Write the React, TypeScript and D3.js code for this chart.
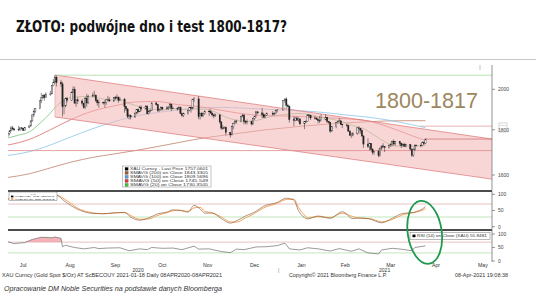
import React from "react";
import * as d3 from "d3";

// ---------- DATA ----------
const title = "ZŁOTO: podwójne dno i test 1800-1817?";
const note = "1800-1817";

// date, open, high, low, close
const ohlc: [string, number, number, number, number][] = [
["2020-07-06",1775,1786,1767,1783],["2020-07-07",1783,1797,1774,1795],["2020-07-08",1795,1818,1792,1809],["2020-07-09",1809,1818,1797,1804],["2020-07-10",1804,1808,1795,1799],
["2020-07-13",1799,1818,1794,1802],["2020-07-14",1802,1812,1794,1809],["2020-07-15",1809,1813,1800,1807],["2020-07-16",1807,1809,1795,1796],["2020-07-17",1796,1812,1795,1810],
["2020-07-20",1810,1820,1807,1818],["2020-07-21",1818,1843,1814,1842],["2020-07-22",1842,1872,1839,1871],["2020-07-23",1871,1898,1860,1888],["2020-07-24",1888,1904,1881,1902],
["2020-07-27",1902,1944,1899,1941],["2020-07-28",1941,1981,1929,1956],["2020-07-29",1956,1971,1950,1970],["2020-07-30",1970,1975,1941,1958],["2020-07-31",1958,1984,1955,1975],
["2020-08-03",1975,1992,1966,1976],["2020-08-04",1976,2022,1975,2019],["2020-08-05",2019,2055,2016,2038],["2020-08-06",2038,2075,2030,2063],["2020-08-07",2063,2072,2015,2035],
["2020-08-10",2035,2050,2012,2028],["2020-08-11",2028,2040,1863,1911],["2020-08-12",1911,1950,1874,1915],["2020-08-13",1915,1958,1908,1954],["2020-08-14",1954,1961,1932,1944],
["2020-08-17",1944,1990,1940,1985],["2020-08-18",1985,2015,1980,2000],["2020-08-19",2000,2014,1929,1929],["2020-08-20",1929,1950,1911,1946],["2020-08-21",1946,1959,1925,1940],
["2020-08-24",1940,1949,1917,1929],["2020-08-25",1929,1932,1902,1906],["2020-08-26",1906,1961,1900,1954],["2020-08-27",1954,1975,1911,1930],["2020-08-28",1930,1972,1927,1964],
["2020-08-31",1964,1982,1960,1968],["2020-09-01",1968,1992,1960,1970],["2020-09-02",1970,1973,1935,1943],["2020-09-03",1943,1950,1917,1931],["2020-09-04",1931,1946,1906,1933],
["2020-09-07",1933,1937,1922,1931],["2020-09-08",1931,1944,1907,1931],["2020-09-09",1931,1950,1921,1946],["2020-09-10",1946,1966,1940,1946],["2020-09-11",1946,1959,1936,1940],
["2020-09-14",1940,1959,1934,1957],["2020-09-15",1957,1966,1946,1955],["2020-09-16",1955,1973,1951,1960],["2020-09-17",1960,1962,1931,1944],["2020-09-18",1944,1959,1940,1950],
["2020-09-21",1950,1954,1882,1912],["2020-09-22",1912,1913,1890,1900],["2020-09-23",1900,1905,1855,1863],["2020-09-24",1863,1876,1849,1868],["2020-09-25",1868,1872,1849,1861],
["2020-09-28",1861,1883,1856,1880],["2020-09-29",1880,1900,1873,1898],["2020-09-30",1898,1900,1878,1886],["2020-10-01",1886,1916,1885,1906],["2020-10-02",1906,1918,1889,1900],
["2020-10-05",1900,1920,1898,1913],["2020-10-06",1913,1920,1873,1877],["2020-10-07",1877,1896,1873,1887],["2020-10-08",1887,1899,1883,1894],["2020-10-09",1894,1933,1890,1930],
["2020-10-12",1930,1935,1916,1922],["2020-10-13",1922,1924,1885,1892],["2020-10-14",1892,1903,1886,1898],["2020-10-15",1898,1913,1892,1908],["2020-10-16",1908,1912,1894,1900],
["2020-10-19",1900,1914,1897,1905],["2020-10-20",1905,1916,1896,1907],["2020-10-21",1907,1931,1903,1924],["2020-10-22",1924,1926,1889,1904],["2020-10-23",1904,1912,1899,1902],
["2020-10-26",1902,1910,1892,1902],["2020-10-27",1902,1913,1895,1908],["2020-10-28",1908,1912,1874,1878],["2020-10-29",1878,1881,1861,1868],["2020-10-30",1868,1882,1860,1878],
["2020-11-02",1878,1897,1872,1894],["2020-11-03",1894,1911,1889,1909],["2020-11-04",1909,1911,1882,1904],["2020-11-05",1904,1950,1898,1949],["2020-11-06",1949,1960,1935,1951],
["2020-11-09",1951,1965,1850,1862],["2020-11-10",1862,1881,1849,1877],["2020-11-11",1877,1886,1860,1866],["2020-11-12",1866,1882,1862,1877],["2020-11-13",1877,1893,1871,1889],
["2020-11-16",1889,1898,1866,1887],["2020-11-17",1887,1898,1876,1880],["2020-11-18",1880,1883,1862,1871],["2020-11-19",1871,1877,1855,1866],["2020-11-20",1866,1878,1862,1871],
["2020-11-23",1871,1876,1829,1837],["2020-11-24",1837,1840,1800,1808],["2020-11-25",1808,1821,1800,1806],["2020-11-26",1806,1815,1805,1811],["2020-11-27",1811,1816,1774,1788],
["2020-11-30",1788,1790,1764,1776],["2020-12-01",1776,1819,1775,1815],["2020-12-02",1815,1834,1803,1830],["2020-12-03",1830,1845,1826,1841],["2020-12-04",1841,1848,1829,1839],
["2020-12-07",1839,1866,1835,1863],["2020-12-08",1863,1875,1859,1870],["2020-12-09",1870,1875,1825,1839],["2020-12-10",1839,1845,1826,1837],["2020-12-11",1837,1849,1825,1839],
["2020-12-14",1839,1843,1820,1827],["2020-12-15",1827,1858,1825,1855],["2020-12-16",1855,1868,1846,1863],["2020-12-17",1863,1891,1858,1886],["2020-12-18",1886,1889,1874,1881],
["2020-12-21",1881,1906,1856,1872],["2020-12-22",1872,1882,1859,1860],["2020-12-23",1860,1874,1855,1869],["2020-12-24",1869,1883,1866,1877],["2020-12-28",1877,1889,1869,1876],
["2020-12-29",1876,1885,1869,1878],["2020-12-30",1878,1896,1874,1893],["2020-12-31",1893,1900,1883,1895],["2021-01-04",1895,1944,1895,1943],["2021-01-05",1943,1952,1930,1950],
["2021-01-06",1950,1959,1902,1918],["2021-01-07",1918,1926,1907,1913],["2021-01-08",1913,1917,1834,1849],["2021-01-11",1849,1864,1817,1844],["2021-01-12",1844,1860,1840,1856],
["2021-01-13",1856,1863,1842,1846],["2021-01-14",1846,1859,1836,1851],["2021-01-15",1851,1856,1822,1828],["2021-01-18",1828,1840,1803,1840],["2021-01-19",1840,1845,1832,1840],
["2021-01-20",1840,1874,1838,1871],["2021-01-21",1871,1875,1858,1870],["2021-01-22",1870,1871,1846,1856],["2021-01-25",1856,1867,1848,1855],["2021-01-26",1855,1860,1847,1850],
["2021-01-27",1850,1852,1830,1843],["2021-01-28",1843,1866,1832,1843],["2021-01-29",1843,1874,1841,1847],["2021-02-01",1847,1875,1845,1860],["2021-02-02",1860,1862,1832,1839],
["2021-02-03",1839,1842,1829,1835],["2021-02-04",1835,1837,1785,1794],["2021-02-05",1794,1815,1791,1814],["2021-02-08",1814,1836,1807,1833],["2021-02-09",1833,1842,1830,1838],
["2021-02-10",1838,1855,1833,1842],["2021-02-11",1842,1848,1822,1826],["2021-02-12",1826,1828,1808,1823],["2021-02-15",1823,1827,1812,1820],["2021-02-16",1820,1823,1790,1794],
["2021-02-17",1794,1796,1770,1775],["2021-02-18",1775,1786,1762,1775],["2021-02-19",1775,1789,1770,1784],["2021-02-22",1784,1812,1777,1809],["2021-02-23",1809,1816,1782,1806],
["2021-02-24",1806,1808,1782,1797],["2021-02-25",1797,1801,1767,1771],["2021-02-26",1771,1775,1717,1734],["2021-03-01",1734,1760,1717,1723],["2021-03-02",1723,1740,1706,1737],
["2021-03-03",1737,1739,1705,1711],["2021-03-04",1711,1716,1687,1697],["2021-03-05",1697,1702,1687,1700],["2021-03-08",1700,1710,1676,1683],["2021-03-09",1683,1718,1678,1716],
["2021-03-10",1716,1723,1707,1726],["2021-03-11",1726,1738,1716,1722],["2021-03-12",1722,1725,1699,1719],["2021-03-15",1719,1733,1714,1729],["2021-03-16",1729,1740,1721,1731],
["2021-03-17",1731,1750,1725,1745],["2021-03-18",1745,1755,1728,1735],["2021-03-19",1735,1747,1727,1745],["2021-03-22",1745,1747,1727,1738],["2021-03-23",1738,1741,1716,1727],
["2021-03-24",1727,1738,1723,1733],["2021-03-25",1733,1740,1720,1725],["2021-03-26",1725,1736,1720,1732],["2021-03-29",1732,1733,1705,1712],["2021-03-30",1712,1713,1677,1685],
["2021-03-31",1685,1718,1678,1708],["2021-04-01",1708,1734,1704,1728],["2021-04-02",1728,1732,1725,1729],["2021-04-05",1729,1737,1720,1728],["2021-04-06",1728,1745,1725,1743],
["2021-04-07",1743,1746,1730,1737],["2021-04-08",1737,1759,1734,1757]
];

const sma20: [string, number][] = [
["2020-07-06",1762],["2020-07-13",1775],["2020-07-20",1790],["2020-07-27",1830],["2020-08-03",1880],["2020-08-07",1915],["2020-08-14",1950],["2020-08-21",1962],["2020-08-28",1962],
["2020-09-04",1955],["2020-09-11",1945],["2020-09-18",1945],["2020-09-25",1925],["2020-10-02",1910],["2020-10-09",1900],["2020-10-16",1895],["2020-10-23",1902],["2020-10-30",1898],
["2020-11-06",1900],["2020-11-13",1898],["2020-11-20",1885],["2020-11-27",1860],["2020-12-04",1845],["2020-12-11",1840],["2020-12-18",1845],["2020-12-24",1858],["2020-12-31",1868],
["2021-01-08",1875],["2021-01-15",1878],["2021-01-22",1870],["2021-01-29",1858],["2021-02-05",1850],["2021-02-12",1838],["2021-02-19",1820],["2021-02-26",1805],["2021-03-05",1775],
["2021-03-12",1745],["2021-03-19",1725],["2021-03-26",1725],["2021-04-01",1724],["2021-04-08",1728]
];
const sma50: [string, number][] = [
["2020-07-06",1730],["2020-07-20",1755],["2020-08-03",1800],["2020-08-17",1850],["2020-08-31",1890],["2020-09-14",1915],["2020-09-28",1935],["2020-10-12",1938],["2020-10-26",1922],
["2020-11-09",1912],["2020-11-23",1895],["2020-12-07",1878],["2020-12-21",1868],["2021-01-04",1866],["2021-01-18",1862],["2021-02-01",1858],["2021-02-15",1852],["2021-03-01",1842],
["2021-03-15",1812],["2021-03-29",1775],["2021-04-08",1750]
];
const sma100: [string, number][] = [
["2020-07-06",1684],["2020-07-20",1700],["2020-08-03",1730],["2020-08-17",1768],["2020-08-31",1805],["2020-09-14",1838],["2020-09-28",1865],["2020-10-12",1882],["2020-10-26",1895],
["2020-11-09",1905],["2020-11-23",1908],["2020-12-07",1905],["2020-12-21",1900],["2021-01-04",1895],["2021-01-18",1890],["2021-02-01",1882],["2021-02-15",1870],["2021-03-01",1860],
["2021-03-15",1845],["2021-03-29",1825],["2021-04-08",1810]
];
const sma200: [string, number][] = [
["2020-07-06",1590],["2020-07-20",1605],["2020-08-03",1630],["2020-08-17",1655],["2020-08-31",1675],["2020-09-14",1690],["2020-09-28",1705],["2020-10-12",1722],["2020-10-26",1740],
["2020-11-09",1758],["2020-11-23",1772],["2020-12-07",1785],["2020-12-21",1798],["2021-01-04",1808],["2021-01-18",1818],["2021-02-01",1826],["2021-02-15",1833],["2021-03-01",1838],
["2021-03-15",1842],["2021-03-29",1843],["2021-04-08",1843]
];

// channel: [date, price] end points
const channelUpper: [string, number][] = [["2020-08-06",2076],["2021-05-22",1757]];
const channelLower: [string, number][] = [["2020-08-06",1861],["2021-05-22",1583]];
const levelHigh = 2075;
const levelSupport = 1705;
const levelResist = 1817;
const levelLast = 1757;
const priceTicks = [2000, 1800, 1600];

const stochD: [string, number][] = [
["2020-07-06",86],["2020-07-13",84],["2020-07-20",90],["2020-07-27",95],["2020-08-03",97],["2020-08-07",97],["2020-08-12",80],["2020-08-17",64],["2020-08-20",56],["2020-08-26",45],
["2020-08-31",41],["2020-09-07",40],["2020-09-14",43],["2020-09-21",44],["2020-09-25",30],["2020-10-01",20],["2020-10-07",27],["2020-10-13",40],["2020-10-19",45],["2020-10-23",52],
["2020-10-28",50],["2020-11-02",45],["2020-11-06",66],["2020-11-10",55],["2020-11-13",42],["2020-11-18",42],["2020-11-24",25],["2020-11-30",11],["2020-12-04",18],["2020-12-10",33],
["2020-12-16",45],["2020-12-22",63],["2020-12-31",75],["2021-01-06",88],["2021-01-11",82],["2021-01-14",50],["2021-01-18",28],["2021-01-20",24],["2021-01-27",33],["2021-02-04",26],
["2021-02-12",46],["2021-02-19",25],["2021-02-24",27],["2021-03-02",24],["2021-03-10",12],["2021-03-17",26],["2021-03-24",41],["2021-03-31",44],["2021-04-02",47],["2021-04-05",52],
["2021-04-08",62]
];
const stochDS: [string, number][] = [
["2020-07-06",85],["2020-07-13",85],["2020-07-20",88],["2020-07-27",93],["2020-08-03",96],["2020-08-07",97],["2020-08-12",86],["2020-08-17",70],["2020-08-20",60],["2020-08-26",48],
["2020-08-31",43],["2020-09-07",40],["2020-09-14",42],["2020-09-21",44],["2020-09-25",35],["2020-10-01",23],["2020-10-07",24],["2020-10-13",35],["2020-10-19",43],["2020-10-23",49],
["2020-10-28",51],["2020-11-02",47],["2020-11-06",58],["2020-11-10",60],["2020-11-13",48],["2020-11-18",43],["2020-11-24",30],["2020-11-30",15],["2020-12-04",14],["2020-12-10",27],
["2020-12-16",41],["2020-12-22",58],["2020-12-31",72],["2021-01-06",84],["2021-01-11",85],["2021-01-14",60],["2021-01-18",36],["2021-01-20",27],["2021-01-27",31],["2021-02-04",28],
["2021-02-12",42],["2021-02-19",31],["2021-02-24",26],["2021-03-02",25],["2021-03-10",15],["2021-03-17",22],["2021-03-24",37],["2021-03-31",43],["2021-04-02",45],["2021-04-05",49],
["2021-04-08",56]
];
const rsi: [string, number][] = [
["2020-07-06",71],["2020-07-10",64],["2020-07-13",66],["2020-07-17",68],["2020-07-22",80],["2020-07-28",88],["2020-08-04",86],["2020-08-06",89],["2020-08-10",84],["2020-08-11",53],
["2020-08-13",58],["2020-08-19",50],["2020-08-25",45],["2020-09-01",50],["2020-09-04",46],["2020-09-10",48],["2020-09-18",49],["2020-09-24",38],["2020-10-01",45],["2020-10-06",42],
["2020-10-09",50],["2020-10-16",47],["2020-10-23",48],["2020-10-29",42],["2020-11-06",55],["2020-11-09",44],["2020-11-16",45],["2020-11-24",35],["2020-11-30",31],["2020-12-04",44],
["2020-12-09",42],["2020-12-17",52],["2020-12-24",53],["2020-12-31",57],["2021-01-05",66],["2021-01-06",60],["2021-01-08",45],["2021-01-15",41],["2021-01-20",49],["2021-01-27",45],
["2021-02-04",37],["2021-02-10",46],["2021-02-18",36],["2021-02-23",45],["2021-03-01",30],["2021-03-08",26],["2021-03-10",41],["2021-03-17",47],["2021-03-24",43],["2021-03-30",38],
["2021-04-01",50],["2021-04-08",56]
];
const oscTicks = [100, 50, 0];
const months = ["Jul","Aug","Sep","Oct","Nov","Dec","Jan","Feb","Mar","Apr","May"];
const monthMid = ["2020-07-16","2020-08-16","2020-09-15","2020-10-16","2020-11-15","2020-12-16","2021-01-16","2021-02-14","2021-03-16","2021-04-15","2021-05-16"];
const years = [["2020","2020-09-30"],["2021","2021-03-12"]];

const priceLegend = [
  ["#000000", "XAU Curncy - Last Price  1757.0601"],
  ["#9a5a3a", "SMAVG (200)  on Close   1843.3305"],
  ["#5b9bd5", "SMAVG (100)  on Close   1809.5696"],
  ["#e03030", "SMAVG (50)   on Close   1745.549"],
  ["#40c040", "SMAVG (20)   on Close   1730.3505"],
];

// ---------- CHART ----------
const parse = d3.timeParse("%Y-%m-%d") as (s: string) => Date;

export default function App() {
  const W = 536, H = 293;
  const x = d3.scaleTime().domain([new Date(2020, 6, 1), new Date(2021, 4, 22)]).range([0.5, 492]);
  const yP = d3.scaleLog().domain([1600, 2000]).range([175, 89.3]);
  const yS = d3.scaleLinear().domain([0, 100]).range([226.7, 194.3]);
  const yR = d3.scaleLinear().domain([0, 100]).range([261, 234]);
  const X0 = 8, X1 = 492;

  const maLine = d3.line<[string, number]>().x(d => x(parse(d[0]))).y(d => yP(d[1])).curve(d3.curveMonotoneX);
  const sLine = d3.line<[string, number]>().x(d => x(parse(d[0]))).y(d => yS(d[1])).curve(d3.curveMonotoneX);
  const rLine = d3.line<[string, number]>().x(d => x(parse(d[0]))).y(d => yR(d[1]));
  const rArea = d3.area<[string, number]>().x(d => x(parse(d[0]))).y0(yR(70)).y1(d => yR(d[1]));

  const cu = channelUpper.map(d => [x(parse(d[0])), yP(d[1])]);
  const cl = channelLower.map(d => [x(parse(d[0])), yP(d[1])]);
  const chanPath = `M${cu[0][0]},${cu[0][1]}L${cu[1][0]},${cu[1][1]}L${cl[1][0]},${cl[1][1]}L${cl[0][0]},${cl[0][1]}Z`;
  const lastX = x(parse(ohlc[ohlc.length - 1][0]));
  const cw = 1.25;

  const smallFont = "Liberation Sans, Arial, sans-serif";

  return (
    <svg width={W} height={H} style={{ position: "absolute", left: 0, top: 0, background: "#fff" }}>
      <defs>
        <clipPath id="pclip"><rect x={X0} y={64} width={X1 - X0} height={126} /></clipPath>
        <clipPath id="rclip"><rect x={X0} y={230} width={X1 - X0} height={yR(70) - 230} /></clipPath>
      </defs>
      <rect x={0} y={0} width={W} height={H} fill="#fff" />
      <text x={16} y={32} fontFamily="DejaVu Sans, Liberation Sans, sans-serif" fontWeight="bold" fontSize={15}
        textLength={271} lengthAdjust="spacingAndGlyphs" fill="#111">{title}</text>
      <line x1={0} x2={W} y1={59.5} y2={59.5} stroke="#c8c8c8" strokeWidth={1} />
      <line x1={480} x2={480} y1={65} y2={70} stroke="#999" strokeWidth={0.6} />

      {/* price panel */}
      <g clipPath="url(#pclip)">
        <path d={maLine(sma200) || ""} fill="none" stroke="#c0806a" strokeWidth={0.8} />
        <path d={maLine(sma100) || ""} fill="none" stroke="#8cc4e8" strokeWidth={0.8} />
        <path d={maLine(sma50) || ""} fill="none" stroke="#e06a6a" strokeWidth={0.8} />
        <path d={maLine(sma20) || ""} fill="none" stroke="#7cc07c" strokeWidth={0.8} />
        <path d={chanPath} fill="#f4b4b4" fillOpacity={0.55} stroke="none" />
        <line x1={cu[0][0]} y1={cu[0][1]} x2={cu[1][0]} y2={cu[1][1]} stroke="#e08080" strokeWidth={0.8} />
        <line x1={cl[0][0]} y1={cl[0][1]} x2={cl[1][0]} y2={cl[1][1]} stroke="#e08080" strokeWidth={0.8} />
        <line x1={cu[0][0]} y1={cu[0][1]} x2={cl[0][0]} y2={cl[0][1]} stroke="#e6a0a0" strokeWidth={0.6} />
        <line x1={cu[0][0]} x2={X1} y1={yP(levelHigh)} y2={yP(levelHigh)} stroke="#a8dca0" strokeWidth={0.8} />
        <line x1={X0} x2={X1} y1={yP(levelSupport)} y2={yP(levelSupport)} stroke="#e08a8a" strokeWidth={0.8} />
        <line x1={lastX - 5} x2={X1} y1={yP(levelResist)} y2={yP(levelResist)} stroke="#e09090" strokeWidth={0.7} />
        <line x1={lastX} x2={X1} y1={yP(levelLast)} y2={yP(levelLast)} stroke="#c86a6a" strokeWidth={0.7} />
        {ohlc.map((d, i) => {
          const cx = x(parse(d[0]));
          const [o, h, l, c] = [d[1], d[2], d[3], d[4]];
          const up = c >= o;
          const top = yP(Math.max(o, c)), bot = yP(Math.min(o, c));
          return (
            <g key={i}>
              <line x1={cx} x2={cx} y1={yP(h)} y2={yP(l)} stroke="#222" strokeWidth={0.5} />
              <rect x={cx - cw / 2} y={top} width={cw} height={Math.max(0.6, bot - top)}
                fill={up ? "#fff" : "#222"} stroke="#222" strokeWidth={0.4} />
            </g>
          );
        })}
      </g>
      <text x={375} y={108} fontFamily="Liberation Sans, Arial, sans-serif" fontSize={22} fill="#9c865c"
        textLength={103} lengthAdjust="spacingAndGlyphs">{note}</text>

      {/* price legend */}
      <rect x={122.5} y={166} width={88.5} height={21} fill="#fff" stroke="#888" strokeWidth={0.5} />
      {priceLegend.map((d, i) => (
        <g key={i}>
          <rect x={125} y={167.4 + i * 4} width={3.2} height={3} fill={d[0]} stroke="#333" strokeWidth={0.2} />
          <text x={130} y={170.1 + i * 4} fontFamily={smallFont} fontSize={3.7} fill="#333"
            textLength={78} lengthAdjust="spacingAndGlyphs">{d[1]}</text>
        </g>
      ))}

      {/* price axis */}
      <line x1={X1} x2={X1} y1={65} y2={190} stroke="#666" strokeWidth={0.7} />
      {priceTicks.map(t => (
        <g key={t}>
          <line x1={X1} x2={X1 + 3} y1={yP(t)} y2={yP(t)} stroke="#555" strokeWidth={0.6} />
          <text x={498} y={yP(t) + 1.8} fontFamily={smallFont} fontSize={5} fill="#444">{t}</text>
        </g>
      ))}
      <rect x={499} y={123} width={8} height={9} fill="none" stroke="#aaa" strokeWidth={0.5} />
      <line x1={500} x2={506} y1={125.5} y2={125.5} stroke="#aaa" strokeWidth={0.4} />

      {/* separators */}
      <line x1={X0} x2={X1} y1={191} y2={191} stroke="#111" strokeWidth={1.6} />
      <line x1={X0} x2={X1} y1={230} y2={230} stroke="#111" strokeWidth={1.6} />

      {/* stochastic panel */}
      <line x1={X0} x2={X1} y1={yS(70)} y2={yS(70)} stroke="#e0a8a8" strokeWidth={0.7} />
      <line x1={X0} x2={X1} y1={yS(30)} y2={yS(30)} stroke="#a8dca0" strokeWidth={0.7} />
      <path d={sLine(stochDS) || ""} fill="none" stroke="#f4a460" strokeWidth={1} />
      <path d={sLine(stochD) || ""} fill="none" stroke="#7a5030" strokeWidth={0.6} />
      <rect x={9} y={192} width={48} height={8.5} fill="#fff" stroke="#777" strokeWidth={0.5} />
      <text x={33} y={194.6} textAnchor="middle" fontFamily={smallFont} fontSize={2.4} fill="#333">XAU</text>
      <rect x={11} y={195.6} width={2.4} height={1.8} fill="#000" />
      <text x={14.5} y={197.3} fontFamily={smallFont} fontSize={2.5} fill="#333" textLength={40} lengthAdjust="spacingAndGlyphs">%D(3)      61.8066</text>
      <rect x={11} y={198.2} width={2.4} height={1.8} fill="#f4a460" />
      <text x={14.5} y={199.9} fontFamily={smallFont} fontSize={2.5} fill="#333" textLength={40} lengthAdjust="spacingAndGlyphs">%DS(3)     55.8373</text>

      {/* RSI panel */}
      <line x1={X0} x2={X1} y1={yR(70)} y2={yR(70)} stroke="#e0a8a8" strokeWidth={0.7} />
      <line x1={X0} x2={X1} y1={yR(30)} y2={yR(30)} stroke="#a8dca0" strokeWidth={0.7} />
      <g clipPath="url(#rclip)">
        <path d={rArea(rsi) || ""} fill="#f0a0a8" fillOpacity={0.8} />
      </g>
      <path d={rLine(rsi) || ""} fill="none" stroke="#555" strokeWidth={0.6} />
      <rect x={410} y={232.7} width={80} height={6.6} fill="#fff" stroke="#777" strokeWidth={0.5} />
      <rect x={412.5} y={234.6} width={3} height={2.6} fill="#000" />
      <text x={417} y={237.3} fontFamily={smallFont} fontSize={3.6} fill="#333" textLength={70} lengthAdjust="spacingAndGlyphs">RSI (14)  on Close (XAU)  55.8481</text>

      {/* lower axes */}
      <line x1={X1} x2={X1} y1={191} y2={262} stroke="#666" strokeWidth={0.7} />
      {oscTicks.map(t => (
        <g key={"s" + t}>
          <line x1={X1} x2={X1 + 3} y1={yS(t)} y2={yS(t)} stroke="#555" strokeWidth={0.6} />
          <text x={498} y={yS(t) + 1.8} fontFamily={smallFont} fontSize={5} fill="#444">{t}</text>
        </g>
      ))}
      {oscTicks.map(t => (
        <g key={"r" + t}>
          <line x1={X1} x2={X1 + 3} y1={yR(t)} y2={yR(t)} stroke="#555" strokeWidth={0.6} />
          <text x={498} y={yR(t) + 1.8} fontFamily={smallFont} fontSize={5} fill="#444">{t}</text>
        </g>
      ))}
      {months.map((m, i) => (
        <text key={m} x={x(parse(monthMid[i]))} y={267} textAnchor="middle" fontFamily={smallFont} fontSize={5.2} fill="#333">{m}</text>
      ))}
      {years.map(y => (
        <text key={y[0]} x={x(parse(y[1]))} y={271.5} textAnchor="middle" fontFamily={smallFont} fontSize={5} fill="#333">{y[0]}</text>
      ))}
      <line x1={x(new Date(2021, 0, 1))} x2={x(new Date(2021, 0, 1))} y1={268} y2={273} stroke="#888" strokeWidth={0.5} />

      <text x={2} y={277} fontFamily={smallFont} fontSize={4.6} fill="#333" textLength={220} lengthAdjust="spacingAndGlyphs">XAU Curncy (Gold Spot   $/Oz) AT ScBECOUY 2021-01-18  Daily 08APR2020-08APR2021</text>
      <text x={289} y={277} fontFamily={smallFont} fontSize={4.6} fill="#333" textLength={98} lengthAdjust="spacingAndGlyphs">Copyright© 2021 Bloomberg Finance L.P.</text>
      <text x={455} y={277} fontFamily={smallFont} fontSize={4.6} fill="#333" textLength={53} lengthAdjust="spacingAndGlyphs">08-Apr-2021 19:08:38</text>
      <text x={4} y={290.5} fontFamily="Liberation Sans, Arial, sans-serif" fontStyle="italic" fontSize={6.6} fill="#333" textLength={218} lengthAdjust="spacingAndGlyphs">Opracowanie DM Noble Securities  na podstawie danych Bloomberga</text>

      {/* highlight ellipse */}
      <ellipse cx={424.7} cy={232.3} rx={17} ry={31.7} fill="none" stroke="#1f9a50" strokeWidth={1.8}
        transform="rotate(-8 424.7 232.3)" />
    </svg>
  );
}
